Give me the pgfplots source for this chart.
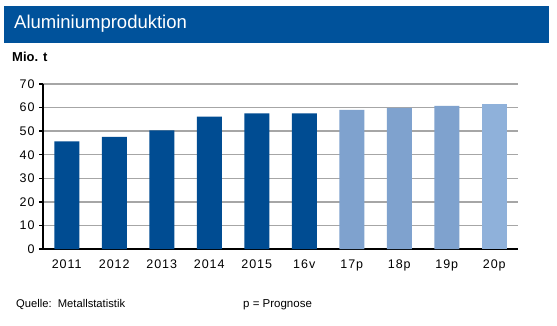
\documentclass[border=0pt]{standalone}
\usepackage{pgfplots}
\pgfplotsset{compat=1.18}
\usepackage{fontspec}
\setmainfont{Liberation Sans}
\newfontfamily\spaced[LetterSpace=8]{Liberation Sans}
\definecolor{banner}{HTML}{00529B}
\definecolor{darkbar}{HTML}{004C92}
\definecolor{lightbar}{HTML}{7FA2CE}
\definecolor{lightbarb}{HTML}{8FB1DA}
\definecolor{gridgray}{HTML}{A6A6A6}
\begin{document}
\begin{tikzpicture}
\path[fill=white] (0pt,0pt) rectangle (557pt,-326pt);
\fill[banner] (4pt,-6pt) rectangle (549pt,-43pt);
\node[anchor=west,text=white,font=\fontsize{18.5}{20}\selectfont,inner sep=0] at (14pt,-24pt) {Aluminiumproduktion};
\node[anchor=base west,font=\bfseries\fontsize{13}{15}\selectfont,inner sep=0] at (12pt,-62pt) {Mio. t};
\node[anchor=base west,font=\fontsize{11.2}{13}\selectfont,inner sep=0] at (16pt,-307pt) {Quelle:\ \ Metallstatistik};
\node[anchor=base west,font=\fontsize{11.5}{13}\selectfont,inner sep=0] at (243pt,-307pt) {p = Prognose};
\begin{axis}[
  at={(43pt,-249pt)}, anchor=south west,
  scale only axis, width=475pt, height=165pt,
  xmin=-0.5, xmax=9.5, ymin=0, ymax=70,
  axis x line*=bottom, axis y line*=left,
  axis line style={black, line width=1.3pt},
  ytick={0,10,...,70},
  ymajorgrids, grid style={gridgray, line width=1.5pt},
  xtick={0,...,9},
  xticklabels={2011,2012,2013,2014,2015,16v,17p,18p,19p,20p},
  minor xtick={-0.5,0.5,...,9.5},
  xtick style={draw=none},
  minor tick style={black, line width=1.3pt},
  minor tick length=4pt,
  ytick style={black, line width=1.3pt},
  major tick length=4pt,
  tick align=outside,
  ticklabel style={font=\spaced\fontsize{12.5}{14}\selectfont},
  /pgf/number format/assume math mode=true,
  yticklabel style={xshift=-1pt},
  xticklabel style={yshift=-3pt},
  bar width=25pt,
  every axis plot/.append style={ybar, bar shift=0pt, draw=none},
  clip=false,
]
\addplot[fill=darkbar] coordinates {(0,45.7) (1,47.6) (2,50.3) (3,56.2) (4,57.5) (5,57.5)};
\addplot[fill=lightbar] coordinates {(6,59.0) (7,59.9) (8,60.7)};
\addplot[fill=lightbarb] coordinates {(9,61.5)};
\end{axis}
\end{tikzpicture}
\end{document}
